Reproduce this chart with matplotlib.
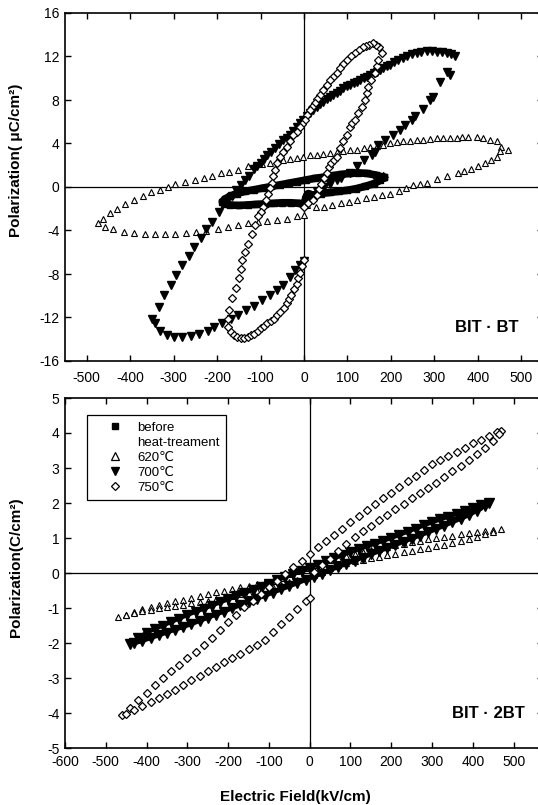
import matplotlib
matplotlib.use("Agg")
import matplotlib.pyplot as plt
from matplotlib.lines import Line2D

plt.rcParams['font.family'] = ['Liberation Sans', 'DejaVu Sans']
plt.rcParams['axes.unicode_minus'] = False

# ---------------- Top panel: BIT·BT ----------------
# before heat-treatment (filled squares)
E_sq_top = [183, 165, 145, 125, 105, 85, 65, 45, 25, 5, -15, -35, -55, -75, -95, -115, -135, -155, -170, -182, -188,
            -183, -170, -150, -130, -110, -90, -70, -50, -30, -10, 0, 3, 6, 10, 20, 40, 60, 80, 100, 120, 140, 160, 175, 183]
P_sq_top = [0.9, 1.1, 1.25, 1.3, 1.25, 1.15, 1.05, 0.9, 0.8, 0.65, 0.5, 0.35, 0.2, 0.05, -0.1, -0.25, -0.4, -0.6, -0.85, -1.1, -1.35,
            -1.55, -1.65, -1.7, -1.65, -1.6, -1.55, -1.5, -1.45, -1.45, -1.5, -1.7, -1.2, -0.8, -0.6, -0.75, -0.6, -0.5, -0.4, -0.3, -0.15, 0.05, 0.3, 0.6, 0.9]

# 620 C (open triangles)
E_620_top = [469, 454, 443, 427, 413, 397, 378, 363, 351, 336, 320, 305, 290, 274, 259, 244, 228, 213, 198, 182,
             167, 152, 137, 121, 106, 90, 75, 60, 44, 29, 14, -2, -17, -32, -48, -63, -78, -96, -115, -130,
             -153, -172, -191, -211, -230, -250, -273, -296, -314, -332, -352, -370, -391, -411, -431, -447, -462, -474,
             -458, -439, -415, -391, -367, -344, -320, -296, -272, -249, -225, -199, -176, -153, -130, -107, -84, -61, -38, -15, 0,
             8, 27, 46, 65, 84, 104, 123, 142, 161, 180, 199, 218, 235, 250, 266, 282, 306, 329, 354, 369, 385, 401, 416, 431, 443, 451]
P_620_top = [3.4, 3.7, 4.2, 4.3, 4.5, 4.6, 4.6, 4.6, 4.5, 4.5, 4.5, 4.5, 4.4, 4.3, 4.3, 4.2, 4.2, 4.1, 4.0, 3.9,
             3.8, 3.7, 3.6, 3.4, 3.4, 3.3, 3.2, 3.1, 3.0, 2.9, 2.9, 2.8, 2.65, 2.55, 2.45, 2.35, 2.25, 2.15, 2.0, 1.9,
             1.6, 1.4, 1.25, 1.05, 0.8, 0.65, 0.45, 0.25, 0.0, -0.25, -0.5, -0.85, -1.2, -1.6, -2.0, -2.4, -2.9, -3.35,
             -3.65, -3.9, -4.15, -4.25, -4.3, -4.3, -4.3, -4.3, -4.2, -4.15, -4.05, -3.85, -3.7, -3.5, -3.35, -3.2, -3.15, -3.0, -2.9, -2.7, -2.6,
             -1.7, -1.8, -1.8, -1.7, -1.5, -1.35, -1.2, -1.0, -0.9, -0.75, -0.6, -0.4, -0.1, 0.2, 0.3, 0.4, 0.7, 1.0, 1.3, 1.45, 1.7, 1.9, 2.2, 2.5, 2.8, 3.3]

# 700 C (filled down triangles)
E_700_top = [347, 338, 328, 317, 305, 294, 282, 270, 259, 248, 236, 227, 217, 208, 198, 190, 182, 175, 167, 160,
             152, 145, 137, 129, 121, 114, 106, 98, 90, 83, 75, 67, 60, 52, 44, 37, 29, 21, 14, 6,
             -2, -9, -17, -25, -32, -40, -48, -57, -67, -75, -84, -92, -100, -108, -115, -126, -136, -146, -156, -165,
             -180, -195, -211, -226, -238, -253, -264, -280, -295, -306, -322, -333, -349,
             -342, -331, -315, -299, -280, -260, -241, -222, -207, -188, -169, -153, -134, -115, -96, -78, -63, -48, -32, -21, -9, 0,
             5, 15, 30, 45, 60, 75, 86, 106, 121, 137, 156, 164, 171, 186, 205, 221, 232, 248, 255, 274, 290, 297, 313, 329, 336]
P_700_top = [12.0, 12.2, 12.3, 12.4, 12.4, 12.5, 12.5, 12.4, 12.3, 12.2, 12.0, 11.9, 11.7, 11.5, 11.2, 11.1, 10.9, 10.8, 10.6, 10.45,
             10.3, 10.15, 10.0, 9.85, 9.7, 9.55, 9.4, 9.25, 9.1, 8.85, 8.6, 8.45, 8.3, 8.05, 7.8, 7.6, 7.4, 7.1, 6.8, 6.5,
             6.2, 5.85, 5.5, 5.15, 4.8, 4.55, 4.3, 3.95, 3.6, 3.25, 2.9, 2.55, 2.2, 1.95, 1.7, 1.0, 0.6, 0.2, -0.3, -0.8,
             -1.5, -2.3, -3.2, -3.9, -4.7, -5.5, -6.3, -7.2, -8.1, -9.0, -9.9, -11.0, -12.1,
             -12.5, -13.2, -13.6, -13.8, -13.8, -13.7, -13.5, -13.2, -12.9, -12.5, -12.1, -11.8, -11.3, -10.9, -10.4, -9.9, -9.5, -9.0, -8.3, -7.6, -7.2, -6.8,
             -1.2, -0.8, -0.4, 0.0, 0.3, 0.6, 0.8, 1.3, 1.9, 2.5, 2.9, 3.2, 3.9, 4.3, 4.8, 5.2, 5.7, 6.2, 6.5, 7.2, 8.0, 8.3, 9.7, 10.6, 10.3]

# 750 C (open diamonds)
E_750_top = [179, 172, 165, 159, 150, 142, 136, 127, 117, 108, 98, 90, 83, 75, 67, 60, 52, 44, 37, 31,
             25, 19, 14, 8, 2, -4, -9, -17, -25, -32, -40, -48, -55, -61, -67, -71, -74, -78, -82, -88,
             -94, -100, -105, -113, -120, -128, -136, -143, -146, -149, -157, -165, -172, -176, -176, -169, -162, -155, -146,
             -138, -130, -122, -115, -107, -100, -92, -84, -77, -70, -62, -55, -47, -40, -34, -29, -23, -17, -13, -10, -5, 0,
             0, 10, 21, 29, 35, 40, 46, 52, 57, 63, 69, 75, 83, 90, 98, 106, 111, 117, 125, 133, 140, 144, 148, 155, 163, 167, 171]
P_750_top = [12.3, 12.9, 13.1, 13.2, 13.1, 13.0, 12.9, 12.6, 12.3, 12.0, 11.7, 11.3, 10.9, 10.5, 10.1, 9.8, 9.4, 8.9, 8.5, 8.1,
             7.7, 7.4, 7.1, 6.6, 6.2, 5.8, 5.5, 5.1, 4.8, 4.2, 3.7, 3.2, 2.8, 2.2, 1.6, 1.0, 0.4, -0.1, -0.6, -1.2,
             -1.8, -2.3, -2.7, -3.5, -4.3, -5.2, -6.0, -6.7, -7.5, -8.4, -9.3, -10.2, -11.3, -12.1, -12.9, -13.3, -13.6, -13.8, -13.9,
             -13.85, -13.8, -13.65, -13.5, -13.25, -13.0, -12.75, -12.5, -12.3, -12.1, -11.8, -11.5, -11.1, -10.7, -10.3, -9.9, -9.4, -8.9, -8.4, -7.9, -7.3, -6.7,
             -1.8, -1.5, -1.2, -0.7, -0.2, 0.3, 0.8, 1.3, 1.8, 2.2, 2.5, 2.8, 3.6, 4.2, 4.8, 5.5, 5.9, 6.2, 6.8, 7.4, 8.0, 8.6, 9.2, 9.8, 10.5, 11.1, 11.7]

# ---------------- Bottom panel: BIT·2BT ----------------
E_620_bot = [470, 450, 430, 410, 390, 370, 350, 330, 310, 290, 270, 250, 230, 210, 190, 170, 150, 130, 110, 90,
             70, 50, 30, 10, -10, -30, -50, -70, -90, -110, -130, -150, -170, -190, -210, -230, -250, -270, -290, -310,
             -330, -350, -370, -390, -410, -430, -450, -470,
             -450, -430, -410, -390, -370, -350, -330, -310, -290, -270, -250, -230, -210, -190, -170, -150, -130, -110, -90, -70,
             -50, -30, -10, 10, 30, 50, 70, 90, 110, 130, 150, 170, 190, 210, 230, 250, 270, 290, 310, 330,
             350, 370, 390, 410, 430, 450]
P_620_bot = [1.27, 1.24, 1.20, 1.17, 1.14, 1.11, 1.07, 1.04, 1.01, 0.96, 0.92, 0.88, 0.84, 0.80, 0.75, 0.70, 0.65, 0.59, 0.54, 0.49,
             0.43, 0.37, 0.30, 0.23, 0.15, 0.06, -0.04, -0.13, -0.22, -0.27, -0.32, -0.36, -0.41, -0.45, -0.50, -0.55, -0.59, -0.65, -0.70, -0.76,
             -0.81, -0.87, -0.92, -0.98, -1.04, -1.11, -1.19, -1.27,
             -1.21, -1.14, -1.08, -1.05, -1.01, -0.98, -0.94, -0.90, -0.87, -0.83, -0.79, -0.75, -0.70, -0.65, -0.60, -0.56, -0.51, -0.46, -0.41, -0.34,
             -0.27, -0.20, -0.13, -0.05, 0.04, 0.14, 0.23, 0.29, 0.33, 0.38, 0.42, 0.46, 0.51, 0.55, 0.59, 0.64, 0.68, 0.72, 0.76, 0.81,
             0.87, 0.92, 0.97, 1.04, 1.11, 1.18]

E_700_bot = [440, 420, 400, 380, 360, 340, 320, 300, 280, 260, 240, 220, 200, 180, 160, 140, 120, 100, 80, 60,
             40, 20, 0, -20, -40, -60, -80, -100, -120, -140, -160, -180, -200, -220, -240, -260, -280, -300, -320, -340,
             -360, -380, -400, -420, -440,
             -430, -410, -390, -370, -350, -330, -310, -290, -270, -250, -230, -210, -190, -170, -150, -130, -110, -90, -70, -50,
             -30, -10, 10, 30, 50, 70, 90, 110, 130, 150, 170, 190, 210, 230, 250, 270, 290, 310, 330, 350,
             370, 390, 410, 430]
P_700_bot = [2.00, 1.93, 1.85, 1.77, 1.69, 1.61, 1.53, 1.45, 1.36, 1.27, 1.18, 1.09, 1.00, 0.92, 0.84, 0.76, 0.68, 0.60, 0.51, 0.42,
             0.33, 0.24, 0.15, 0.06, -0.03, -0.12, -0.21, -0.30, -0.39, -0.48, -0.57, -0.66, -0.75, -0.84, -0.93, -1.02, -1.11, -1.20, -1.30, -1.40,
             -1.50, -1.60, -1.70, -1.86, -2.03,
             -2.01, -1.94, -1.86, -1.78, -1.70, -1.62, -1.54, -1.46, -1.37, -1.28, -1.19, -1.10, -1.01, -0.92, -0.83, -0.74, -0.65, -0.56, -0.47, -0.38,
             -0.29, -0.20, -0.11, -0.02, 0.08, 0.17, 0.26, 0.35, 0.44, 0.53, 0.62, 0.71, 0.80, 0.89, 0.98, 1.07, 1.16, 1.25, 1.35, 1.45,
             1.55, 1.65, 1.78, 1.92]

E_750_bot = [469, 460, 440, 420, 400, 380, 360, 340, 320, 300, 280, 260, 240, 220, 200, 180, 160, 140, 120, 100,
             80, 60, 40, 20, 0, -20, -40, -60, -80, -100, -120, -140, -160, -180, -200, -220, -240, -260, -280, -300,
             -320, -340, -360, -380, -400, -420, -440, -460,
             -450, -430, -410, -390, -370, -350, -330, -310, -290, -270, -250, -230, -210, -190, -170, -150, -130, -110, -90, -70,
             -50, -30, -10, 0,
             10, 30, 50, 70, 90, 110, 130, 150, 170, 190, 210, 230, 250, 270, 290, 310, 330, 350, 370, 390,
             410, 430, 450, 465]
P_750_bot = [4.07, 4.02, 3.92, 3.81, 3.70, 3.58, 3.46, 3.34, 3.22, 3.10, 2.94, 2.78, 2.62, 2.46, 2.30, 2.13, 1.96, 1.79, 1.62, 1.45,
             1.27, 1.09, 0.91, 0.73, 0.55, 0.35, 0.16, -0.04, -0.22, -0.41, -0.60, -0.79, -0.97, -1.19, -1.41, -1.63, -1.86, -2.07, -2.25, -2.44,
             -2.63, -2.81, -3.00, -3.21, -3.43, -3.64, -3.86, -4.07,
             -4.03, -3.92, -3.80, -3.68, -3.56, -3.45, -3.33, -3.20, -3.07, -2.94, -2.81, -2.68, -2.55, -2.42, -2.30, -2.17, -2.05, -1.90, -1.68, -1.47,
             -1.25, -1.03, -0.81, -0.70,
             0.04, 0.22, 0.40, 0.62, 0.84, 1.03, 1.19, 1.35, 1.51, 1.67, 1.83, 1.98, 2.13, 2.28, 2.43, 2.58, 2.74, 2.90, 3.06, 3.22,
             3.39, 3.58, 3.78, 3.98]

legend_labels = ["before", "heat-treament", "620\u2103", "700\u2103", "750\u2103"]
x_ticks_top = [-500, -400, -300, -200, -100, 0, 100, 200, 300, 400, 500]
y_ticks_top = [-16, -12, -8, -4, 0, 4, 8, 12, 16]
x_ticks_bot = [-600, -500, -400, -300, -200, -100, 0, 100, 200, 300, 400, 500]
y_ticks_bot = [-5, -4, -3, -2, -1, 0, 1, 2, 3, 4, 5]

W, H = 538, 805
fig = plt.figure(figsize=(W / 100, H / 100), dpi=100)

def px_axes(l, t, r, b):
    return fig.add_axes([l / W, 1 - b / H, (r - l) / W, (b - t) / H])

ax1 = px_axes(65, 13, 543, 361)
ax2 = px_axes(65, 398, 543, 748)

open_tri = dict(marker='^', ls='none', mfc='white', mec='black', mew=0.8, ms=5)
fill_tri = dict(marker='v', ls='none', color='black', ms=5.5)
open_dia = dict(marker='D', ls='none', mfc='white', mec='black', mew=0.9, ms=3.6)

# top
ax1.plot(E_sq_top, P_sq_top, color='black', lw=5.5, marker='s', ms=4, solid_joinstyle='round')
ax1.plot(E_620_top, P_620_top, **open_tri)
ax1.plot(E_700_top, P_700_top, **fill_tri)
ax1.plot(E_750_top, P_750_top, **open_dia)

# bottom
ax2.plot(E_620_bot, P_620_bot, **open_tri)
ax2.plot(E_700_bot, P_700_bot, marker='v', ls='-', lw=3, color='black', ms=6.5)
ax2.plot(E_750_bot, P_750_bot, **open_dia)

for ax in (ax1, ax2):
    ax.axhline(0, color='black', lw=0.9, zorder=0)
    ax.axvline(0, color='black', lw=0.9, zorder=0)
    for s in ax.spines.values():
        s.set_linewidth(1.2)
    ax.tick_params(direction='in', top=True, right=True, length=4, width=1, labelsize=10)

ax1.set_xlim(-550, 550)
ax1.set_ylim(-16, 16)
ax1.set_xticks(x_ticks_top)
ax1.set_yticks(y_ticks_top)
ax1.tick_params(axis='x', pad=7)
ax1.tick_params(axis='y', pad=4)

ax2.set_xlim(-600, 572)
ax2.set_ylim(-5, 5)
ax2.set_xticks(x_ticks_bot)
ax2.set_yticks(y_ticks_bot)
ax2.tick_params(axis='x', pad=5)
ax2.tick_params(axis='y', pad=4)

ax1.text(421, -12.9, "BIT \u00b7 BT", ha='center', va='center', fontsize=12, fontweight='bold')
ax2.text(527, -4.0, "BIT \u00b7 2BT", ha='right', va='center', fontsize=12, fontweight='bold')

fig.text(16 / W, 1 - 160 / H, "Polarization( \u03bcC/cm\u00b2)", rotation=90, ha='center', va='center',
         fontsize=11, fontweight='bold')
fig.text(16 / W, 1 - 567 / H, "Polarization(C/cm\u00b2)", rotation=90, ha='center', va='center',
         fontsize=11, fontweight='bold')
fig.text(295 / W, 1 - 797 / H, "Electric Field(kV/cm)", ha='center', va='center',
         fontsize=11, fontweight='bold')

handles = [Line2D([], [], marker='s', ls='none', color='black', ms=5),
           Line2D([], [], marker=None, ls='none'),
           Line2D([], [], marker='^', ls='none', mfc='white', mec='black', mew=0.9, ms=6),
           Line2D([], [], marker='v', ls='none', color='black', ms=6),
           Line2D([], [], marker='D', ls='none', mfc='white', mec='black', mew=0.9, ms=4.5)]
leg = ax2.legend(handles, legend_labels, loc='upper left', bbox_to_anchor=(0.046, 0.951),
                 frameon=True, fancybox=False, edgecolor='black', framealpha=1,
                 fontsize=9.5, handlelength=3.2, handletextpad=0.1, labelspacing=0.2,
                 borderpad=0.5, borderaxespad=0)
leg.get_frame().set_linewidth(0.9)

fig.savefig("out.png", dpi=100)
